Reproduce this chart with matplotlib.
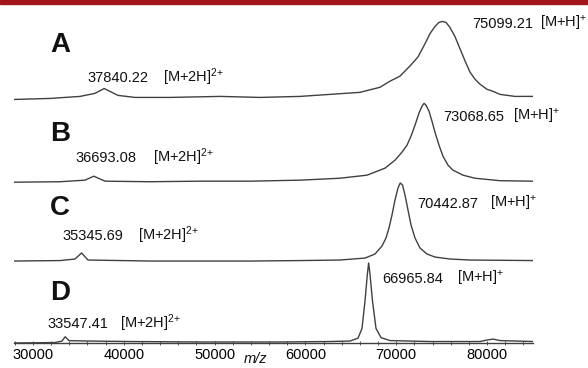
import matplotlib.pyplot as plt
import numpy as np
from matplotlib.patches import Rectangle

plt.rcParams['font.family'] = ['Liberation Sans', 'DejaVu Sans']
plt.rcParams['mathtext.default'] = 'regular'

# spectra: m/z and relative intensity (%)
a_mz = [27907, 31872, 35176, 36828, 37840, 39361, 41233, 45088, 50595, 55000, 59405,
        62709, 66013, 68215, 69317, 70419, 71520, 72401, 73172, 73722, 74273, 74714,
        75099, 75484, 75925, 76476, 77026, 77577, 78128, 78678, 79229, 80000, 80661,
        81432, 83084, 85066]
a_int = [0, 1.3, 3.9, 7.8, 14, 5.2, 2.6, 2.6, 3.9, 2.6, 3.9,
         6.5, 9.1, 15.6, 23.4, 29.9, 42.9, 54.5, 71.4, 84.4, 93.5, 98.7,
         100, 98.7, 92.2, 80.5, 65, 49.4, 35, 26, 19.5, 13, 10.4,
         6.5, 3.9, 3.9]

b_mz = [27907, 32974, 35727, 36693, 37930, 42885, 48392, 53899, 59405, 63810, 66784,
        68767, 69868, 70639, 71190, 71630, 72071, 72511, 72842, 73068, 73282, 73612,
        73943, 74273, 74714, 75154, 75705, 76255, 77357, 78678, 81432, 85066]
b_int = [0, 0.6, 2.6, 7.7, 1.3, 0.6, 1.3, 1.3, 2.6, 5.1, 9,
         18, 28.2, 38.5, 47.4, 59, 73, 88.5, 97.4, 101, 98.7, 91,
         78, 64, 47.4, 33.3, 21.8, 15.4, 9, 5.1, 1.9, 1.3]

c_mz = [27907, 32974, 34626, 35346, 36057, 42885, 53899, 59405, 63811, 66564, 67665,
        68435, 68876, 69206, 69537, 69867, 70198, 70443, 70694, 70969, 71300, 71630,
        72071, 72621, 73392, 74273, 75925, 78128, 85066]
c_int = [0, 0.6, 2.6, 10.3, 1.3, 0, 0, 0.6, 1.3, 3.8, 9,
         19.2, 29.5, 42.3, 59, 78.2, 93.6, 100, 97.4, 84.6, 65.4, 46.2,
         29.5, 16.7, 9, 5.1, 2.6, 1.3, 0.6]

d_mz = [27907, 32423, 33194, 33547, 33965, 36278, 40683, 48392, 57203, 62709, 64912,
        65793, 66233, 66564, 66821, 66966, 67115, 67390, 67775, 68326, 69317, 73722,
        79229, 80000, 80661, 81432, 85066]
d_int = [0, 0.6, 2.5, 8, 3, 2.5, 1.9, 1.3, 1.3, 1.9, 2.5,
         6.2, 18.7, 53.7, 88, 102.5, 88, 53.7, 18.7, 6.9, 3.1, 1.9,
         1.9, 3.8, 5, 3.1, 1.9]

panels = ['A', 'B', 'C', 'D']
mono_labels = ['75099.21', '73068.65', '70442.87', '66965.84']
di_labels = ['37840.22', '36693.08', '35345.69', '33547.41']
major_ticks = [30000, 40000, 50000, 60000, 70000, 80000]

spectra = [(a_mz, a_int), (b_mz, b_int), (c_mz, c_int), (d_mz, d_int)]
offsets = [312, 206, 105, 0]

fig = plt.figure(figsize=(5.88, 3.68), dpi=100)
fig.patches.append(Rectangle((0, 1 - 4 / 368), 1, 4 / 368, transform=fig.transFigure,
                             color='#a3161b', zorder=0))
ax = fig.add_axes([14 / 588, 25 / 368, 519 / 588, 338 / 368])

line_col = '#404040'
for (mz, inten), off in zip(spectra, offsets):
    ax.plot(mz, np.array(inten) + off, color=line_col, lw=1.0)

fs = 10.5
txt_col = '#111111'
# (x of number, x of ion label, height above baseline)
mono_pos = [(78348, 85837, 92), (75154, 82863, 79), (72291, 80330, 68), (68436, 76696, 77)]
di_pos = [(35947, 44317, 22.6), (34626, 43216, 26), (33194, 41564, 27), (31542, 39581, 19.2)]
letter_h = [61, 53, 59, 55]

for i, off in enumerate(offsets):
    x1, x2, h = mono_pos[i]
    ax.text(x1, off + h, mono_labels[i], fontsize=fs, color=txt_col, clip_on=False)
    ax.text(x2, off + h, '[M+H]$^{{+}}$', fontsize=fs, color=txt_col, clip_on=False)
    x1, x2, h = di_pos[i]
    ax.text(x1, off + h, di_labels[i], fontsize=fs, color=txt_col)
    ax.text(x2, off + h, '[M+2H]$^{2{+}}$', fontsize=fs, color=txt_col)
    ax.text(31872, off + letter_h[i], panels[i], fontsize=20, fontweight='bold', color=txt_col)

ax.set_xlim(27907, 85066)
ax.set_ylim(0, 433)
for s in ['top', 'left', 'right']:
    ax.spines[s].set_visible(False)
ax.spines['bottom'].set_color(line_col)
ax.spines['bottom'].set_linewidth(1.0)
ax.set_yticks([])
ax.set_xticks(major_ticks)
ax.set_xticklabels([str(t) for t in major_ticks], fontsize=fs)
ax.set_xticks(np.arange(28000, 86000, 2000), minor=True)
ax.tick_params(axis='x', which='both', direction='inout', length=3, width=0.6,
               color=line_col, pad=2)
ax.text(54500, -30, 'm/z', fontsize=fs, style='italic', ha='center', va='bottom',
        color=txt_col, clip_on=False)

fig.savefig('out.png', dpi=100)
